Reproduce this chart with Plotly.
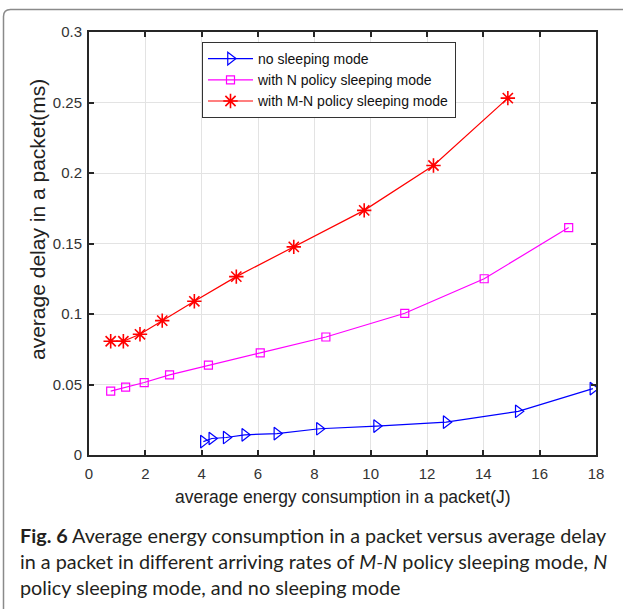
import plotly.graph_objects as go

# Data
blue_x = [4.06, 4.36, 4.87, 5.53, 6.67, 8.18, 10.21, 12.68, 15.24, 17.89]
blue_y = [0.0095, 0.0117, 0.0124, 0.0143, 0.0152, 0.0186, 0.0205, 0.0233, 0.0310, 0.0471]
pink_x = [0.77, 1.30, 1.96, 2.86, 4.24, 6.08, 8.41, 11.21, 14.03, 17.03]
pink_y = [0.0453, 0.0481, 0.0514, 0.0568, 0.0637, 0.0724, 0.0837, 0.1005, 0.1250, 0.1613]
red_x = [0.77, 1.22, 1.81, 2.60, 3.74, 5.23, 7.27, 9.77, 12.23, 14.87]
red_y = [0.0807, 0.0807, 0.0856, 0.0953, 0.1090, 0.1265, 0.1476, 0.1735, 0.2053, 0.2531]

series_names = ["no sleeping mode", "with N policy sleeping mode", "with M-N policy sleeping mode"]
x_ticks = [0, 2, 4, 6, 8, 10, 12, 14, 16, 18]
y_ticks = [0, 0.05, 0.1, 0.15, 0.2, 0.25, 0.3]
y_tick_labels = ["0", "0.05", "0.1", "0.15", "0.2", "0.25", "0.3"]

x_title = "average energy consumption in a packet(J)"
y_title = "average delay in a packet(ms)"
caption_lines = [
    "<b>Fig. 6</b> Average energy consumption in a packet versus average delay",
    "in a packet in different arriving rates of <i>M-N</i> policy sleeping mode, <i>N</i>",
    "policy sleeping mode, and no sleeping mode",
]

W, H = 623, 609
L, R, T, B = 89, 27, 32, 154
pw, ph = W - L - R, H - T - B

def px_x(p):
    return (p - L) / pw

def px_y(p):
    return (H - B - p) / ph

fig = go.Figure()
fig.add_trace(go.Scatter(
    x=blue_x, y=blue_y, mode="lines+markers", name=series_names[0],
    line=dict(color="#0000ff", width=1.2),
    marker=dict(symbol="triangle-right-open", size=11, color="#0000ff", line=dict(width=1.2)),
))
fig.add_trace(go.Scatter(
    x=pink_x, y=pink_y, mode="lines+markers", name=series_names[1],
    line=dict(color="#ff00ff", width=1.2),
    marker=dict(symbol="square-open", size=8, color="#ff00ff", line=dict(width=1.2)),
))
fig.add_trace(go.Scatter(
    x=red_x, y=red_y, mode="lines+markers", name=series_names[2],
    line=dict(color="#ff0000", width=1.2),
    marker=dict(symbol="asterisk-open", size=12, color="#ff0000", line=dict(width=1.6, color="#ff0000")),
))

axis_common = dict(
    showline=True, linecolor="#262626", linewidth=2, mirror="ticks",
    ticks="inside", ticklen=5, tickwidth=2, tickcolor="#262626",
    showgrid=True, gridcolor="#e3e3e3", gridwidth=1, zeroline=False,
    tickfont=dict(family="Liberation Sans, Arial", size=15, color="#333333"),
)

fig.update_xaxes(range=[0, 18], tickvals=x_ticks, ticktext=[str(v) for v in x_ticks],
                 ticklabelstandoff=4, **axis_common)
fig.update_yaxes(range=[0, 0.3], tickvals=y_ticks, ticktext=y_tick_labels,
                 ticklabelstandoff=2, **axis_common)

annotations = [
    dict(text=x_title, x=px_x(342.5), y=px_y(497), xref="paper", yref="paper", showarrow=False,
         xanchor="center", yanchor="middle",
         font=dict(family="Liberation Sans, Arial", size=17.5, color="#222222")),
    dict(text=y_title, x=px_x(37), y=px_y(220), xref="paper", yref="paper", showarrow=False,
         xanchor="center", yanchor="middle", textangle=-90,
         font=dict(family="Liberation Sans, Arial", size=21, color="#222222")),
]
for i, line in enumerate(caption_lines):
    annotations.append(dict(
        text=line, x=px_x(18), y=px_y(535 + 26 * i), xref="paper", yref="paper",
        showarrow=False, xanchor="left", yanchor="middle", align="left",
        font=dict(family="Lato", size=19.8, color="#231f20"),
    ))

# outer frame with rounded top-left corner
x0 = px_x(3.5); yt = px_y(9.5); r = 7
xr = px_x(700); yb = px_y(700)
path = (f"M {x0},{yb} L {x0},{px_y(9.5 + r)} Q {x0},{yt} {px_x(3.5 + r)},{yt} L {xr},{yt}")

fig.update_layout(
    width=W, height=H,
    margin=dict(l=L, r=R, t=T, b=B),
    paper_bgcolor="white", plot_bgcolor="white",
    annotations=annotations,
    shapes=[dict(type="path", path=path, xref="paper", yref="paper",
                 line=dict(color="#8a8a8a", width=1.5), layer="above")],
    legend=dict(
        x=px_x(202), y=px_y(42), xanchor="left", yanchor="top",
        bgcolor="white", bordercolor="#333333", borderwidth=1,
        font=dict(family="Liberation Sans, Arial", size=14, color="#111111"),
        tracegroupgap=0, itemwidth=45,
    ),
    showlegend=True,
)

fig.write_html("out.html")
